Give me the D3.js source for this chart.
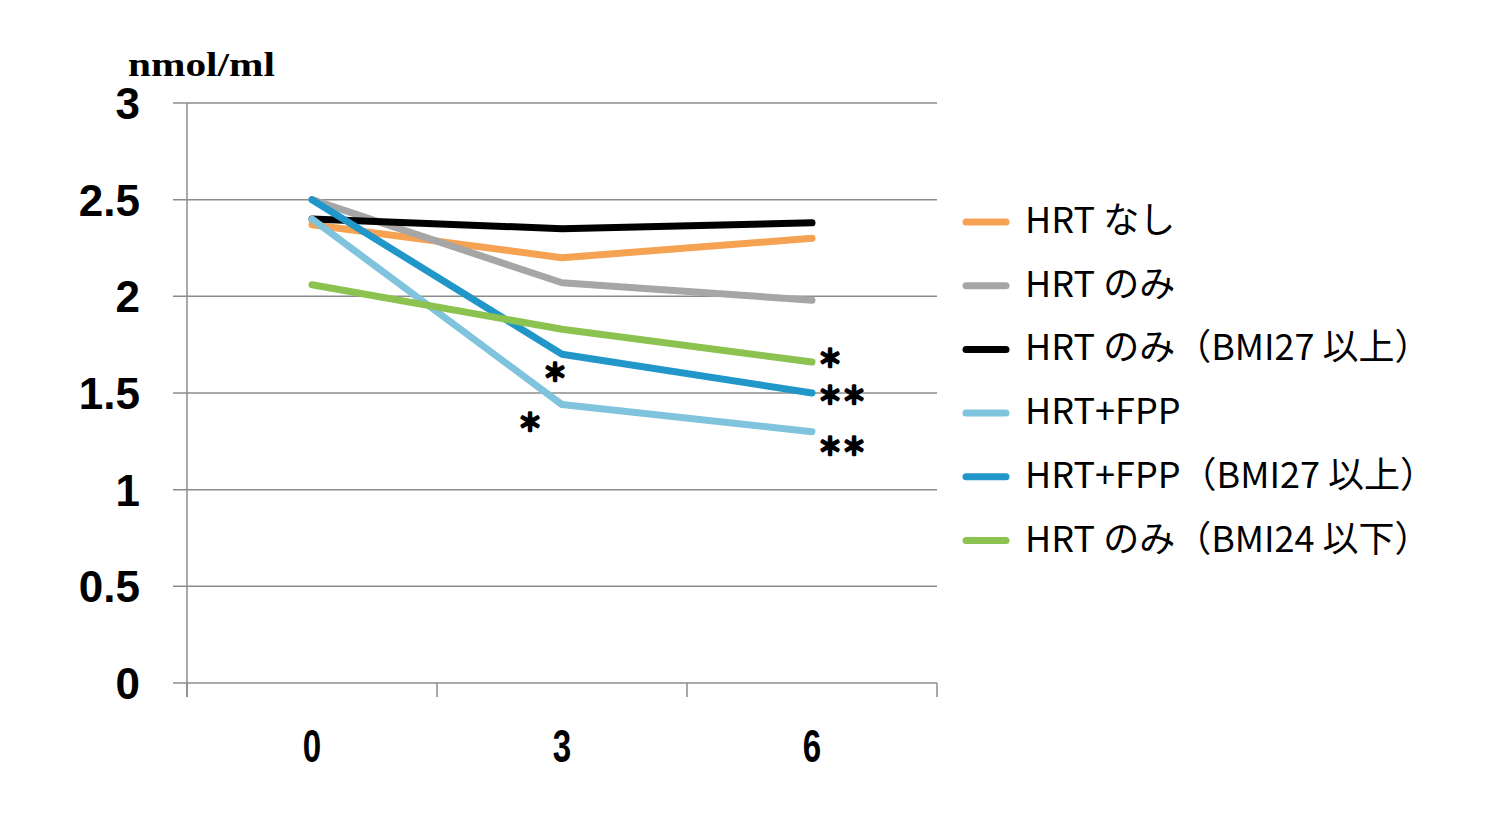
<!DOCTYPE html>
<html><head><meta charset="utf-8">
<script src="https://cdn.jsdelivr.net/npm/d3@7/dist/d3.min.js"></script>
<style>body{margin:0;background:#fff}svg{display:block}</style>
</head><body>
<svg id="c" width="1490" height="817"></svg>
<script>
const categories = ["0", "3", "6"];
const yTicks = [0, 0.5, 1, 1.5, 2, 2.5, 3];
const yTickLabels = ["0", "0.5", "1", "1.5", "2", "2.5", "3"];
const seriesNames = ["HRT なし", "HRT のみ", "HRT のみ（BMI27 以上）", "HRT+FPP", "HRT+FPP（BMI27 以上）", "HRT のみ（BMI24 以下）"];
const seriesColors = ["#F5A352", "#A6A6A6", "#000000", "#80C3DD", "#2197C9", "#8CC24F"];
const hrtNashi = [2.37, 2.20, 2.30];
const hrtNomi = [2.50, 2.07, 1.98];
const hrtNomiBmi27 = [2.40, 2.35, 2.38];
const hrtFpp = [2.40, 1.44, 1.30];
const hrtFppBmi27 = [2.50, 1.70, 1.50];
const hrtNomiBmi24 = [2.06, 1.83, 1.66];
const seriesValues = [hrtNashi, hrtNomi, hrtNomiBmi27, hrtFpp, hrtFppBmi27, hrtNomiBmi24];
const unitLabel = "nmol/ml";
// significance marks: [series index, category index, text]
const marks = [[4, 1, "＊"], [3, 1, "＊"], [5, 2, "＊"], [4, 2, "＊＊"], [3, 2, "＊＊"]];

const svg = d3.select("#c");
const L = 187, R = 937, T = 103, B = 683;
const x = d3.scaleBand().domain(categories).range([L, R]);
const y = d3.scaleLinear().domain([0, 3]).range([B, T]);
const grid = "#8c8c8c";

// gridlines
svg.append("g").selectAll("line").data(yTicks).join("line")
  .attr("x1", 173).attr("x2", R).attr("y1", d => y(d)).attr("y2", d => y(d))
  .attr("stroke", grid).attr("stroke-width", 1.5);
// y axis line
svg.append("line").attr("x1", L).attr("x2", L).attr("y1", T).attr("y2", B + 14)
  .attr("stroke", grid).attr("stroke-width", 1.5);
// x ticks
const xEdges = categories.map(c => x(c)).concat([R]);
svg.append("g").selectAll("line").data(xEdges).join("line")
  .attr("x1", d => d).attr("x2", d => d).attr("y1", B).attr("y2", B + 14)
  .attr("stroke", grid).attr("stroke-width", 1.5);

// y tick labels
svg.append("g").selectAll("text").data(yTicks).join("text")
  .attr("x", 140).attr("y", d => y(d) + 16)
  .attr("text-anchor", "end")
  .attr("font-family", "Liberation Sans, Arial, sans-serif").attr("font-weight", "bold")
  .attr("font-size", 44)
  .text((d, i) => yTickLabels[i]);

// x tick labels
svg.append("g").selectAll("text").data(categories).join("text")
  .attr("x", d => x(d) + x.bandwidth() / 2).attr("y", 762)
  .attr("text-anchor", "middle")
  .attr("font-family", "Liberation Sans, Arial, sans-serif").attr("font-weight", "bold")
  .attr("font-size", 46)
  .attr("transform", d => { const cx = x(d) + x.bandwidth() / 2; return `translate(${cx},0) scale(0.72,1) translate(${-cx},0)`; })
  .text(d => d);

// unit label
svg.append("text").attr("x", 128).attr("y", 76)
  .attr("font-family", "Liberation Serif, Times New Roman, serif").attr("font-weight", "bold")
  .attr("font-size", 34).attr("textLength", 147).attr("lengthAdjust", "spacingAndGlyphs")
  .text(unitLabel);

// lines
const line = d3.line().x((d, i) => x(categories[i]) + x.bandwidth() / 2).y(d => y(d));
svg.append("g").selectAll("path").data(seriesValues).join("path")
  .attr("d", d => line(d)).attr("fill", "none")
  .attr("stroke", (d, i) => seriesColors[i]).attr("stroke-width", 7)
  .attr("stroke-linecap", "round").attr("stroke-linejoin", "round");

// marks (offsets relative to the data point: left edge, vertical centre)
const markOffsets = {"4-1": [-19, 16], "3-1": [-44, 16], "5-2": [6, -6], "4-2": [6, 0], "3-2": [6, 13]};
svg.append("g").selectAll("text").data(marks).join("text")
  .attr("x", d => x(categories[d[1]]) + x.bandwidth() / 2 + markOffsets[d[0] + "-" + d[1]][0])
  .attr("y", d => y(seriesValues[d[0]][d[1]]) + markOffsets[d[0] + "-" + d[1]][1])
  .attr("dominant-baseline", "central")
  .attr("font-family", "Noto Sans CJK JP, sans-serif").attr("font-weight", "bold")
  .attr("font-size", 24)
  .attr("stroke", "#000").attr("stroke-width", 2.4).attr("stroke-linejoin", "round")
  .text(d => d[2]);

// legend
const lg = svg.append("g");
seriesNames.forEach((n, i) => {
  const cy = 222 + i * 63.7;
  lg.append("line").attr("x1", 966).attr("x2", 1006).attr("y1", cy).attr("y2", cy)
    .attr("stroke", seriesColors[i]).attr("stroke-width", 7).attr("stroke-linecap", "round");
  lg.append("text").attr("x", 1025).attr("y", cy + 11)
    .attr("font-family", "Noto Sans CJK JP, Noto Sans, sans-serif").attr("font-size", 36)
    .text(n);
});
</script>
</body></html>
